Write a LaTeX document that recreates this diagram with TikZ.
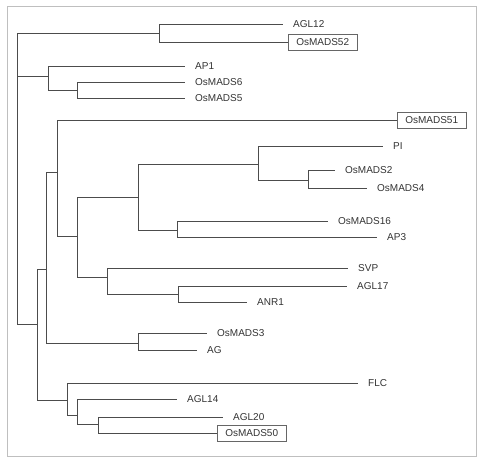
\documentclass[tikz,border=0pt]{standalone}
\usepackage{fontspec}
\setmainfont{Liberation Sans}
\begin{document}
\begin{tikzpicture}[x=1pt, y=-1pt,
        leaf/.style={anchor=west, inner xsep=10pt, inner ysep=2pt, text=black!80, font=\fontsize{10}{12}\selectfont},
        boxed/.style={leaf, draw=black!60, line width=0.6pt, inner xsep=8pt, minimum height=16pt},
        branch/.style={draw=black!70, line width=0.7pt}]
        \useasboundingbox (0,0) rectangle (482,462);
        \draw[black!25, line width=0.8pt] (7,6) rectangle (476,456);

        \node[leaf] (AGL12) at (283,24) {AGL12};
        \node[boxed] (OsMADS52) at (288,42) {OsMADS52};
        \node[leaf] (AP1) at (185,66) {AP1};
        \node[leaf] (OsMADS6) at (185,82) {OsMADS6};
        \node[leaf] (OsMADS5) at (185,98) {OsMADS5};
        \node[boxed] (OsMADS51) at (397,120) {OsMADS51};
        \node[leaf] (PI) at (383,146) {PI};
        \node[leaf] (OsMADS2) at (335,170) {OsMADS2};
        \node[leaf] (OsMADS4) at (367,188) {OsMADS4};
        \node[leaf] (OsMADS16) at (328,221) {OsMADS16};
        \node[leaf] (AP3) at (377,237) {AP3};
        \node[leaf] (SVP) at (348,268) {SVP};
        \node[leaf] (AGL17) at (347,286) {AGL17};
        \node[leaf] (ANR1) at (247,302) {ANR1};
        \node[leaf] (OsMADS3) at (207,333) {OsMADS3};
        \node[leaf] (AG) at (197,350) {AG};
        \node[leaf] (FLC) at (358,383) {FLC};
        \node[leaf] (AGL14) at (177,399) {AGL14};
        \node[leaf] (AGL20) at (223,417) {AGL20};
        \node[boxed] (OsMADS50) at (217,433) {OsMADS50};

        \coordinate (root) at (17,180);
        \coordinate (nA) at (159,33);
        \coordinate (nB) at (48,76);
        \coordinate (nC) at (77,90);
        \coordinate (nD) at (37,324);
        \coordinate (nE) at (46,269);
        \coordinate (nF) at (57,172);
        \coordinate (nG) at (77,236);
        \coordinate (nH) at (138,197);
        \coordinate (nI) at (258,164);
        \coordinate (nI2) at (308,180);
        \coordinate (nH2) at (177,230);
        \coordinate (nJ) at (107,277);
        \coordinate (nJ2) at (178,294);
        \coordinate (nK) at (138,343);
        \coordinate (nL) at (67,400);
        \coordinate (nM) at (77,415);
        \coordinate (nN) at (98,424);

        \draw[branch] (root) |- (nA);
        \draw[branch] (root) |- (nB);
        \draw[branch] (root) |- (nD);
        \draw[branch] (nA) |- (AGL12.west);
        \draw[branch] (nA) |- (OsMADS52.west);
        \draw[branch] (nB) |- (AP1.west);
        \draw[branch] (nB) |- (nC);
        \draw[branch] (nC) |- (OsMADS6.west);
        \draw[branch] (nC) |- (OsMADS5.west);
        \draw[branch] (nD) |- (nE);
        \draw[branch] (nD) |- (nL);
        \draw[branch] (nE) |- (nF);
        \draw[branch] (nE) |- (nK);
        \draw[branch] (nF) |- (OsMADS51.west);
        \draw[branch] (nF) |- (nG);
        \draw[branch] (nG) |- (nH);
        \draw[branch] (nG) |- (nJ);
        \draw[branch] (nH) |- (nI);
        \draw[branch] (nH) |- (nH2);
        \draw[branch] (nI) |- (PI.west);
        \draw[branch] (nI) |- (nI2);
        \draw[branch] (nI2) |- (OsMADS2.west);
        \draw[branch] (nI2) |- (OsMADS4.west);
        \draw[branch] (nH2) |- (OsMADS16.west);
        \draw[branch] (nH2) |- (AP3.west);
        \draw[branch] (nJ) |- (SVP.west);
        \draw[branch] (nJ) |- (nJ2);
        \draw[branch] (nJ2) |- (AGL17.west);
        \draw[branch] (nJ2) |- (ANR1.west);
        \draw[branch] (nK) |- (OsMADS3.west);
        \draw[branch] (nK) |- (AG.west);
        \draw[branch] (nL) |- (FLC.west);
        \draw[branch] (nL) |- (nM);
        \draw[branch] (nM) |- (AGL14.west);
        \draw[branch] (nM) |- (nN);
        \draw[branch] (nN) |- (AGL20.west);
        \draw[branch] (nN) |- (OsMADS50.west);
\end{tikzpicture}
\end{document}
